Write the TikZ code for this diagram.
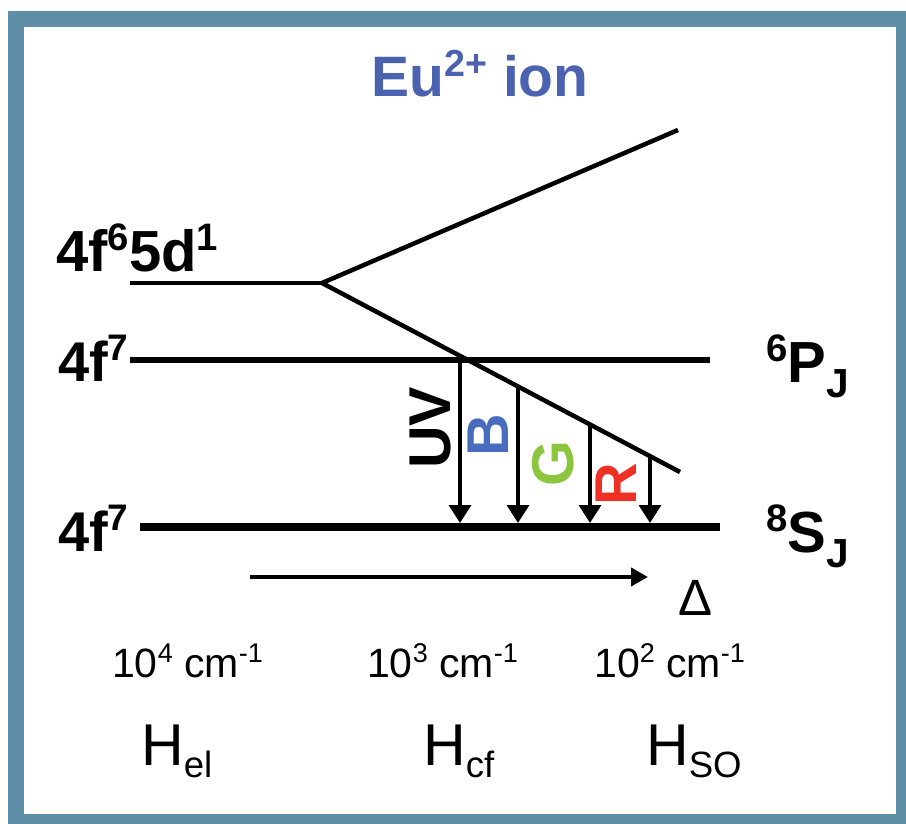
\documentclass[tikz,border=0pt]{standalone}
\usepackage{fontspec}
\usepackage{graphicx}
\setmainfont{Liberation Sans}
\usetikzlibrary{arrows.meta}
\definecolor{framecol}{RGB}{94,143,166}
\definecolor{titleblue}{RGB}{74,98,176}
\definecolor{bblue}{RGB}{72,108,190}
\definecolor{ggreen}{RGB}{140,198,63}
\definecolor{rred}{RGB}{238,49,36}
\newcommand{\spx}[1]{\raisebox{0.36em}{\scalebox{0.66}{#1}}}
\newcommand{\sbx}[1]{\raisebox{-0.27em}{\scalebox{0.7}{#1}}}
\newcommand{\sbh}[1]{\raisebox{-0.22em}{\scalebox{0.62}{#1}}}
\tikzset{
  lbl/.style={inner sep=0pt, font=\fontsize{56}{60}\selectfont\bfseries},
  trlbl/.style={inner sep=0pt, rotate=90, font=\fontsize{59}{62}\selectfont\bfseries},
  smalllbl/.style={inner sep=0pt, font=\fontsize{41}{44}\selectfont},
  hamlbl/.style={inner sep=0pt, font=\fontsize{59}{64}\selectfont},
  level/.style={line width=4.5pt, line cap=butt},
  trans/.style={line width=3.5pt, -{Triangle[length=18pt,width=22pt]}},
}
\begin{document}
\begin{tikzpicture}[x=1pt,y=-1pt]
\useasboundingbox (0,0) rectangle (906,824);
\fill[framecol] (8,11) rectangle (906,824);
\fill[white] (24,27) rectangle (896,814);

% title
\node[inner sep=0pt, anchor=base, text=titleblue, font=\fontsize{57}{60}\selectfont\bfseries] (title) at (480,97) {Eu\spx{2+} ion};

% levels
\coordinate (d0) at (130,283);
\coordinate (dj) at (322,283);
\coordinate (dup) at (678,130);
\coordinate (ddn) at (680,472);
\draw[level] (d0) -- (dj);
\draw[level] (dj) -- (dup);
\draw[level] (dj) -- (ddn);

\coordinate (p0) at (130,360);
\coordinate (p1) at (710,360);
\draw[line width=5.5pt] (p0) -- (p1);

\coordinate (s0) at (140,527);
\coordinate (s1) at (720,527);
\draw[line width=8pt] (s0) -- (s1);

% transitions
\coordinate (uvt) at (460,358);
\coordinate (uvb) at (460,523);
\coordinate (bt) at (518,386.5);
\coordinate (bb) at (518,523);
\coordinate (gt) at (590,424.5);
\coordinate (gb) at (590,523);
\coordinate (rt) at (650,456.2);
\coordinate (rb) at (650,523);
\draw[trans] (uvt) -- (uvb);
\draw[trans] (bt) -- (bb);
\draw[trans] (gt) -- (gb);
\draw[trans] (rt) -- (rb);

\node[trlbl] (uv) at (430,428) {UV};
\node[trlbl, text=bblue] (blab) at (488,435) {B};
\node[trlbl, text=ggreen] (glab) at (553,464) {G};
\node[trlbl, text=rred] (rlab) at (616,484) {R};

% left labels
\node[lbl, anchor=base west, font=\fontsize{58}{60}\selectfont\bfseries] (l1) at (56,271) {4f\spx{6}5d\spx{1}};
\node[lbl, anchor=base west] (l2) at (58,381) {4f\spx{7}};
\node[lbl, anchor=base west] (l3) at (58,551) {4f\spx{7}};

% right labels
\node[lbl, anchor=base west, font=\fontsize{58}{60}\selectfont\bfseries] (r1) at (766,382) {\spx{6}P\sbx{J}};
\node[lbl, anchor=base west, font=\fontsize{58}{60}\selectfont\bfseries] (r2) at (766,552) {\spx{8}S\sbx{J}};

% delta arrow
\coordinate (da) at (250,577);
\coordinate (db) at (648,577);
\draw[line width=4pt, -{Triangle[length=17pt,width=18pt]}] (da) -- (db);
\node[inner sep=0pt, anchor=base, font=\fontsize{51}{56}\selectfont] (delta) at (696,615) {Δ};

% energies
\node[smalllbl, anchor=base west] (e1) at (112,677) {10\spx{4} cm\spx{-1}};
\node[smalllbl, anchor=base west] (e2) at (367,677) {10\spx{3} cm\spx{-1}};
\node[smalllbl, anchor=base west] (e3) at (594,677) {10\spx{2} cm\spx{-1}};

% hamiltonians
\node[hamlbl, anchor=base west] (h1) at (141,765) {H\sbh{el}};
\node[hamlbl, anchor=base west] (h2) at (423,765) {H\sbh{cf}};
\node[hamlbl, anchor=base west] (h3) at (646,765) {H\sbh{SO}};
\end{tikzpicture}
\end{document}
